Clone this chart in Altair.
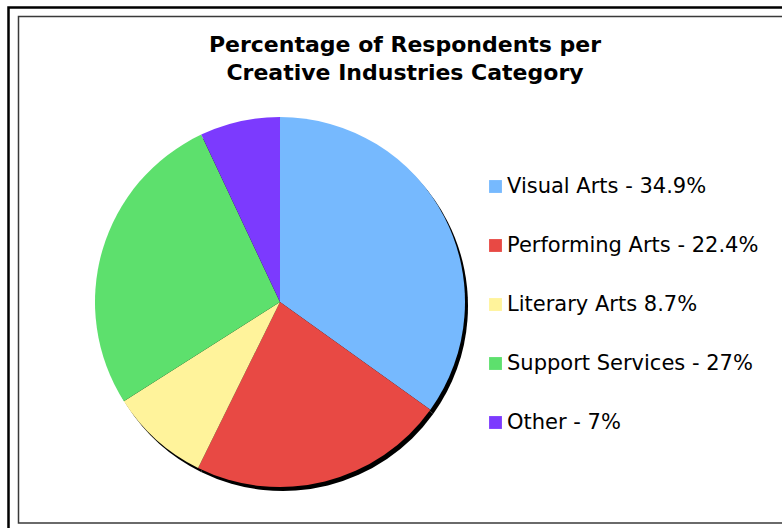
import altair as alt
import pandas as pd

categories = ["Visual Arts - 34.9%", "Performing Arts - 22.4%", "Literary Arts 8.7%",
              "Support Services - 27%", "Other - 7%"]
values = [34.9, 22.4, 8.7, 27.0, 7.0]
colors = ["#76B9FE", "#E84944", "#FFF39B", "#5DE06D", "#7C3AFE"]
title_lines = ["Percentage of Respondents per", "Creative Industries Category"]

df = pd.DataFrame({"category": categories, "value": values, "order": list(range(len(values)))})

W, H = 782, 528
CX, CY, R = 280, 302, 185

base = alt.Chart(df)

shadow = base.mark_arc(radius=R, color="black").encode(
    theta=alt.Theta("value:Q", stack=True),
    order=alt.Order("order:Q"),
    x=alt.value(CX + 3),
    y=alt.value(CY + 4),
)

pie = base.mark_arc(radius=R).encode(
    theta=alt.Theta("value:Q", stack=True),
    order=alt.Order("order:Q"),
    color=alt.Color(
        "category:N",
        scale=alt.Scale(domain=categories, range=colors),
        sort=categories,
        legend=alt.Legend(
            title=None,
            orient="none",
            legendX=485,
            legendY=176,
            padding=0,
            symbolType="square",
            symbolSize=165,
            symbolStrokeWidth=0,
            symbolOpacity=1,
            labelFont="DejaVu Sans",
            labelFontSize=21,
            labelColor="black",
            labelOffset=1,
            labelLimit=400,
            rowPadding=37,
        ),
    ),
    x=alt.value(CX),
    y=alt.value(CY),
)

title_df = pd.DataFrame({"line": title_lines, "idx": [0, 1]})
title = alt.Chart(title_df).mark_text(
    font="DejaVu Sans", fontSize=22, fontWeight="bold", color="black", align="center", baseline="alphabetic"
).encode(
    text="line:N",
    x=alt.value(405),
    y=alt.Y("idx:Q", scale=alt.Scale(domain=[0, 1], range=[52, 80]), axis=None),
)

frame_df = pd.DataFrame({"k": [0]})
outer = alt.Chart(frame_df).mark_rect(fill=None, stroke="black", strokeWidth=2.5).encode(
    x=alt.value(8.5), x2=alt.value(W + 20), y=alt.value(7.5), y2=alt.value(H + 20)
)
inner = alt.Chart(frame_df).mark_rect(fill=None, stroke="#3a3a3a", strokeWidth=1.5).encode(
    x=alt.value(18.5), x2=alt.value(W + 20), y=alt.value(16.5), y2=alt.value(523)
)

chart = alt.layer(outer, inner, title, shadow, pie).properties(
    width=W, height=H, padding=0, autosize=alt.AutoSizeParams(type="none")
).configure_view(stroke=None).resolve_scale(y="independent")

chart.save("out.html", embed_options={"renderer": "svg", "actions": False})
